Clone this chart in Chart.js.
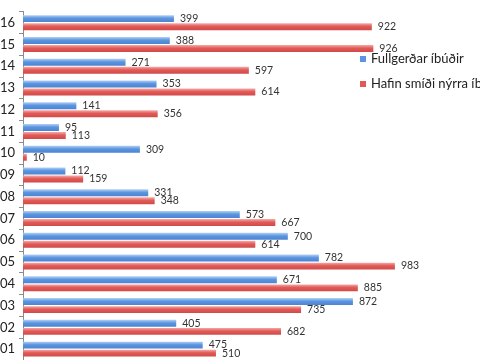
<!DOCTYPE html>
<html>
<head>
<meta charset="utf-8">
<script src="https://cdn.jsdelivr.net/npm/chart.js@4"></script>
<style>
  html, body { margin: 0; padding: 0; width: 480px; height: 360px; overflow: hidden; background: #fff; }
  #wrap { position: absolute; left: -18px; top: 0; width: 520px; height: 400px; }
  .leg { position: absolute; left: 360px; height: 16px; line-height: 16px; font: 13px Lato, sans-serif; color: #222; white-space: nowrap; }
  .leg i { display: inline-block; width: 6px; height: 6px; margin-right: 5px; vertical-align: 1px; }
</style>
</head>
<body>
<div id="wrap"><canvas id="c" width="520" height="400"></canvas></div>
<div class="leg" style="top:50px"><i style="background:#5b95e0"></i>Fullgerðar íbúðir</div>
<div class="leg" style="top:75px"><i style="background:#e05a58"></i>Hafin smíði nýrra íbúða</div>
<script>
const YEARS = ['2001', '2002', '2003', '2004', '2005', '2006', '2007', '2008',
               '2009', '2010', '2011', '2012', '2013', '2014', '2015', '2016'];
const COMPLETED = [475, 405, 872, 671, 782, 700, 573, 331, 112, 309, 95, 141, 353, 271, 388, 399];
const STARTED   = [510, 682, 735, 885, 983, 614, 667, 348, 159, 10, 113, 356, 614, 597, 926, 922];
const SERIES_NAMES = ['Fullgerðar íbúðir', 'Hafin smíði nýrra íbúða'];

// light top, saturated middle, darker bottom (old Excel bar look)
const SHADES = [
  ['#b3d0f4', '#5b95e0', '#4b84d2'],
  ['#f6aaa8', '#e05a58', '#d24a48']
];

const shade = {
  id: 'shade',
  beforeDatasetsDraw(chart) {
    const ctx = chart.ctx;
    chart.data.datasets.forEach((ds, i) => {
      const [light, mid, dark] = SHADES[i];
      chart.getDatasetMeta(i).data.forEach(bar => {
        const top = bar.y - bar.height / 2;
        const g = ctx.createLinearGradient(0, top, 0, top + bar.height);
        g.addColorStop(0, light);
        g.addColorStop(0.45, mid);
        g.addColorStop(1, dark);
        bar.options = Object.assign({}, bar.options, { backgroundColor: g });
      });
    });
  }
};

const valueLabels = {
  id: 'valueLabels',
  afterDatasetsDraw(chart) {
    const ctx = chart.ctx;
    ctx.save();
    ctx.font = '10.5px Lato, sans-serif';
    ctx.fillStyle = '#333';
    ctx.textBaseline = 'middle';
    chart.data.datasets.forEach((ds, i) => {
      chart.getDatasetMeta(i).data.forEach((bar, j) => {
        ctx.fillText(String(ds.data[j]), bar.x + 6, bar.y);
      });
    });
    ctx.restore();
  }
};

new Chart(document.getElementById('c'), {
  type: 'bar',
  data: {
    labels: YEARS,
    datasets: [
      { label: SERIES_NAMES[0], data: COMPLETED, backgroundColor: '#5b95e0' },
      { label: SERIES_NAMES[1], data: STARTED, backgroundColor: '#e05a58' }
    ]
  },
  options: {
    indexAxis: 'y',
    responsive: false,
    animation: false,
    categoryPercentage: 0.74,
    barPercentage: 0.86,
    layout: { padding: { top: 5, right: 25, bottom: 40, left: 0 } },
    scales: {
      x: { display: false, min: 0, max: 1200 },
      y: {
        reverse: true,
        afterFit: s => { s.width = 41; },
        grid: { offset: true, drawOnChartArea: false, drawTicks: true, tickLength: 4, color: '#8c8c8c' },
        border: { color: '#8c8c8c' },
        ticks: { padding: 4, color: '#222', font: { family: 'Lato', size: 13 } }
      }
    },
    plugins: { legend: { display: false }, tooltip: { enabled: false } }
  },
  plugins: [shade, valueLabels]
});
</script>
</body>
</html>
